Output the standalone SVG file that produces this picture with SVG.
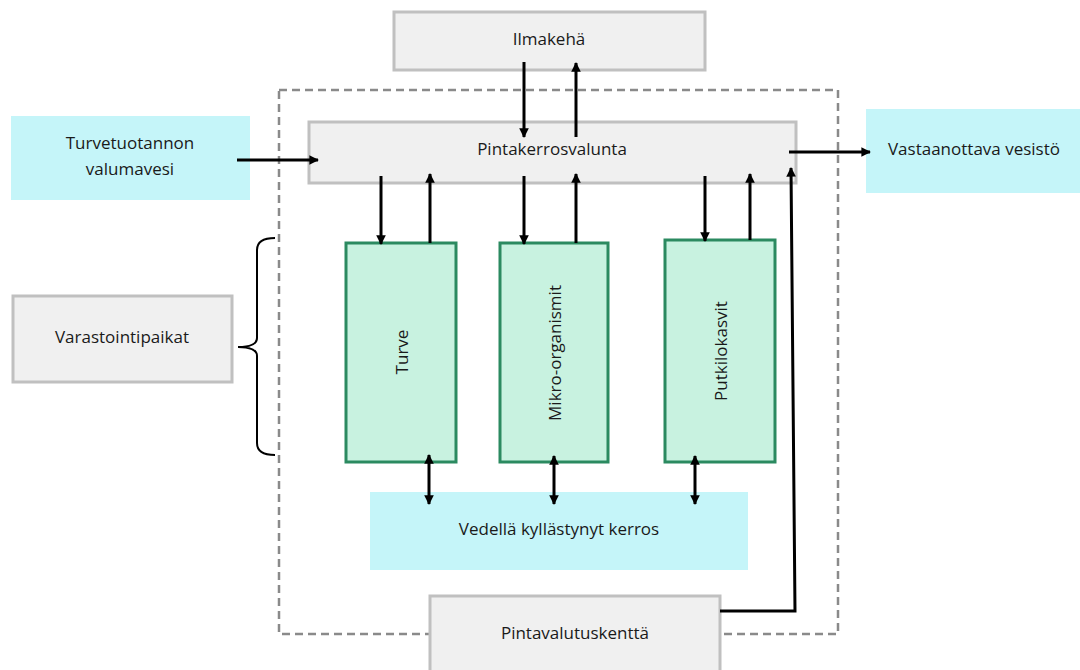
<svg xmlns="http://www.w3.org/2000/svg" width="1080" height="670" viewBox="0 0 1080 670">
<style>
.gray{fill:#f0f0f0;stroke:#c0c0c0;stroke-width:3}
.cyan{fill:#c5f5f9;stroke:none}
.green{fill:#c8f2e0;stroke:#2b8a60;stroke-width:3}
.t{font-family:"Open Sans",Lato,sans-serif;font-size:17px;fill:#1a1a1a;text-anchor:middle;dominant-baseline:central}
.c{stroke:#000;stroke-width:3;fill:none}
</style>
<defs>
<marker id="ah" viewBox="0 0 10 10" refX="9" refY="5" markerWidth="3.2" markerHeight="3.2" orient="auto-start-reverse" markerUnits="strokeWidth">
<path d="M0,0 L10,5 L0,10 z" fill="#000"/>
</marker>
</defs>
<rect width="1080" height="670" fill="#fff"/>
<rect x="279" y="90" width="559" height="544" fill="none" stroke="#8a8a8a" stroke-width="2.5" stroke-dasharray="8 5"/>
<g id="ilmakeha"><rect class="gray" x="394" y="12" width="311" height="58"/><text class="t" x="549" y="38">Ilmakehä</text></g>
<g id="pintakerrosvalunta"><rect class="gray" x="309" y="122" width="487" height="61"/><text class="t" x="552" y="148">Pintakerrosvalunta</text></g>
<g id="turvetuotannon"><rect class="cyan" x="11" y="116" width="239" height="84"/><text class="t" x="130" y="142">Turvetuotannon</text><text class="t" x="130" y="168">valumavesi</text></g>
<g id="vastaanottava"><rect class="cyan" x="866" y="109" width="214" height="84"/><text class="t" x="974" y="148">Vastaanottava vesistö</text></g>
<g id="varastointipaikat"><rect class="gray" x="13" y="296" width="219" height="86"/><text class="t" x="122" y="336">Varastointipaikat</text></g>
<path d="M275,238 Q257,238 257,250 L257,338 Q257,347 238,347 Q257,347 257,356 L257,443 Q257,455 275,455" fill="none" stroke="#000" stroke-width="2"/>
<g id="turve"><rect class="green" x="346" y="243" width="110" height="219"/><text class="t" transform="translate(401,352) rotate(-90)">Turve</text></g>
<g id="mikro"><rect class="green" x="500" y="243" width="108" height="219"/><text class="t" transform="translate(554,353) rotate(-90)">Mikro-organismit</text></g>
<g id="putki"><rect class="green" x="665" y="240" width="110" height="222"/><text class="t" transform="translate(720,351) rotate(-90)">Putkilokasvit</text></g>
<g id="vedella"><rect class="cyan" x="370" y="492" width="378" height="78"/><text class="t" x="559" y="528">Vedellä kyllästynyt kerros</text></g>
<g id="pintavalutuskentta"><rect class="gray" x="430" y="596" width="290" height="80"/><text class="t" x="575" y="632">Pintavalutuskenttä</text></g>
<g id="connectors">
<line class="c" x1="524" y1="62" x2="524" y2="137" marker-end="url(#ah)"/>
<line class="c" x1="576" y1="137" x2="576" y2="63" marker-end="url(#ah)"/>
<line class="c" x1="237" y1="160" x2="318" y2="160" marker-end="url(#ah)"/>
<line class="c" x1="789" y1="152" x2="870" y2="152" marker-end="url(#ah)"/>
<line class="c" x1="381" y1="176" x2="381" y2="244" marker-end="url(#ah)"/>
<line class="c" x1="430" y1="243" x2="430" y2="174" marker-end="url(#ah)"/>
<line class="c" x1="524" y1="176" x2="524" y2="244" marker-end="url(#ah)"/>
<line class="c" x1="576" y1="243" x2="576" y2="174" marker-end="url(#ah)"/>
<line class="c" x1="705" y1="176" x2="705" y2="241" marker-end="url(#ah)"/>
<line class="c" x1="750" y1="240" x2="750" y2="174" marker-end="url(#ah)"/>
<path class="c" d="M720,611 L795,611 L791,168" marker-end="url(#ah)"/>
<line class="c" x1="429" y1="455" x2="429" y2="504" marker-start="url(#ah)" marker-end="url(#ah)"/>
<line class="c" x1="554" y1="456" x2="554" y2="504" marker-start="url(#ah)" marker-end="url(#ah)"/>
<line class="c" x1="695" y1="456" x2="695" y2="504" marker-start="url(#ah)" marker-end="url(#ah)"/>
</g>
</svg>
